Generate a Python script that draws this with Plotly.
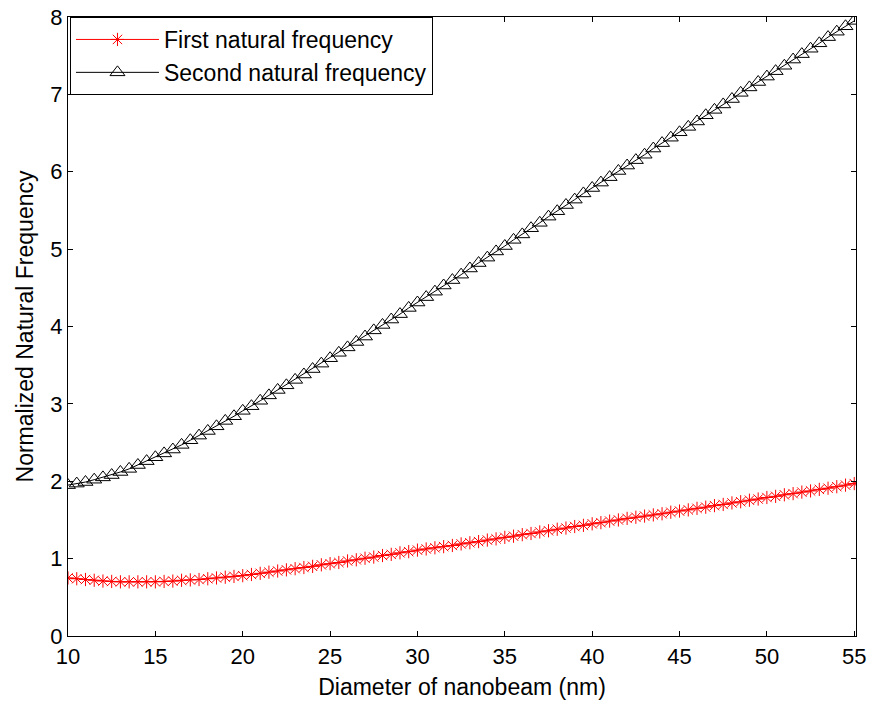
import plotly.graph_objects as go

diameter_nm = [10 + 0.5 * i for i in range(91)]

first_freq = [
    0.75, 0.74, 0.73, 0.72, 0.71, 0.705, 0.70, 0.70, 0.70, 0.70,
    0.70, 0.705, 0.71, 0.72, 0.725, 0.73, 0.74, 0.75, 0.76, 0.77,
    0.78, 0.795, 0.81, 0.825, 0.84, 0.855, 0.87, 0.885, 0.90, 0.92,
    0.935, 0.95, 0.97, 0.985, 1.005, 1.02, 1.04, 1.055, 1.075, 1.09,
    1.11, 1.125, 1.14, 1.155, 1.17, 1.19, 1.205, 1.22, 1.24, 1.255,
    1.275, 1.29, 1.31, 1.325, 1.345, 1.36, 1.38, 1.395, 1.415, 1.43,
    1.45, 1.465, 1.485, 1.50, 1.52, 1.535, 1.55, 1.565, 1.58, 1.60,
    1.615, 1.63, 1.65, 1.665, 1.685, 1.70, 1.72, 1.735, 1.755, 1.77,
    1.79, 1.805, 1.825, 1.84, 1.86, 1.875, 1.895, 1.91, 1.93, 1.95,
    1.97,
]

second_freq = [
    1.95, 1.97, 1.99, 2.02, 2.05, 2.08, 2.12, 2.16, 2.21, 2.26,
    2.31, 2.36, 2.41, 2.47, 2.53, 2.59, 2.65, 2.71, 2.78, 2.84,
    2.91, 2.97, 3.04, 3.11, 3.18, 3.24, 3.31, 3.38, 3.45, 3.52,
    3.59, 3.66, 3.73, 3.80, 3.87, 3.95, 4.02, 4.09, 4.16, 4.24,
    4.31, 4.38, 4.45, 4.53, 4.60, 4.67, 4.75, 4.82, 4.89, 4.97,
    5.04, 5.12, 5.19, 5.27, 5.34, 5.42, 5.49, 5.57, 5.64, 5.72,
    5.79, 5.86, 5.93, 6.01, 6.08, 6.15, 6.22, 6.30, 6.37, 6.44,
    6.51, 6.58, 6.65, 6.73, 6.80, 6.87, 6.94, 7.02, 7.09, 7.16,
    7.23, 7.30, 7.37, 7.45, 7.52, 7.59, 7.66, 7.74, 7.81, 7.88,
    7.95,
]

x_ticks = [10, 15, 20, 25, 30, 35, 40, 45, 50, 55]
y_ticks = [0, 1, 2, 3, 4, 5, 6, 7, 8]

FONT = "Liberation Sans, Arial, sans-serif"

fig = go.Figure()
fig.add_trace(go.Scatter(
    x=diameter_nm, y=first_freq, mode="lines+markers",
    name="First natural frequency",
    line=dict(color="#ff0000", width=1),
    marker=dict(symbol="asterisk-open", size=11, color="#ff0000",
                line=dict(color="#ff0000", width=1)),
))
fig.add_trace(go.Scatter(
    x=diameter_nm, y=second_freq, mode="lines+markers",
    name="Second natural frequency",
    line=dict(color="#000000", width=1),
    marker=dict(symbol="triangle-up-open", size=13, color="#000000",
                line=dict(color="#000000", width=1)),
))

axis_common = dict(
    showgrid=False, zeroline=False, showline=True, linecolor="black",
    linewidth=1, mirror="ticks", ticks="inside", ticklen=5,
    tickcolor="black", tickwidth=1,
    tickfont=dict(family=FONT, size=22, color="black"),
)

fig.update_layout(
    width=870, height=702,
    margin=dict(l=68, r=14, t=17, b=66, autoexpand=False),
    paper_bgcolor="white", plot_bgcolor="white",
    font=dict(family=FONT, size=22, color="black"),
    xaxis=dict(range=[10, 55.1], tickvals=x_ticks, ticklabelstandoff=1,
               title=dict(text="Diameter of nanobeam (nm)", standoff=10,
                          font=dict(family=FONT, size=23, color="black")),
               **axis_common),
    yaxis=dict(range=[0, 8], tickvals=y_ticks,
               title=dict(text="Normalized Natural Frequency", standoff=10,
                          font=dict(family=FONT, size=23, color="black")),
               **axis_common),
    legend=dict(
        x=0.0025, y=1, xanchor="left", yanchor="top",
        bgcolor="white", bordercolor="black", borderwidth=1,
        font=dict(family=FONT, size=23, color="black"),
        itemwidth=83, entrywidth=365, tracegroupgap=0,
    ),
    showlegend=True,
)

fig.write_html("out.html")
